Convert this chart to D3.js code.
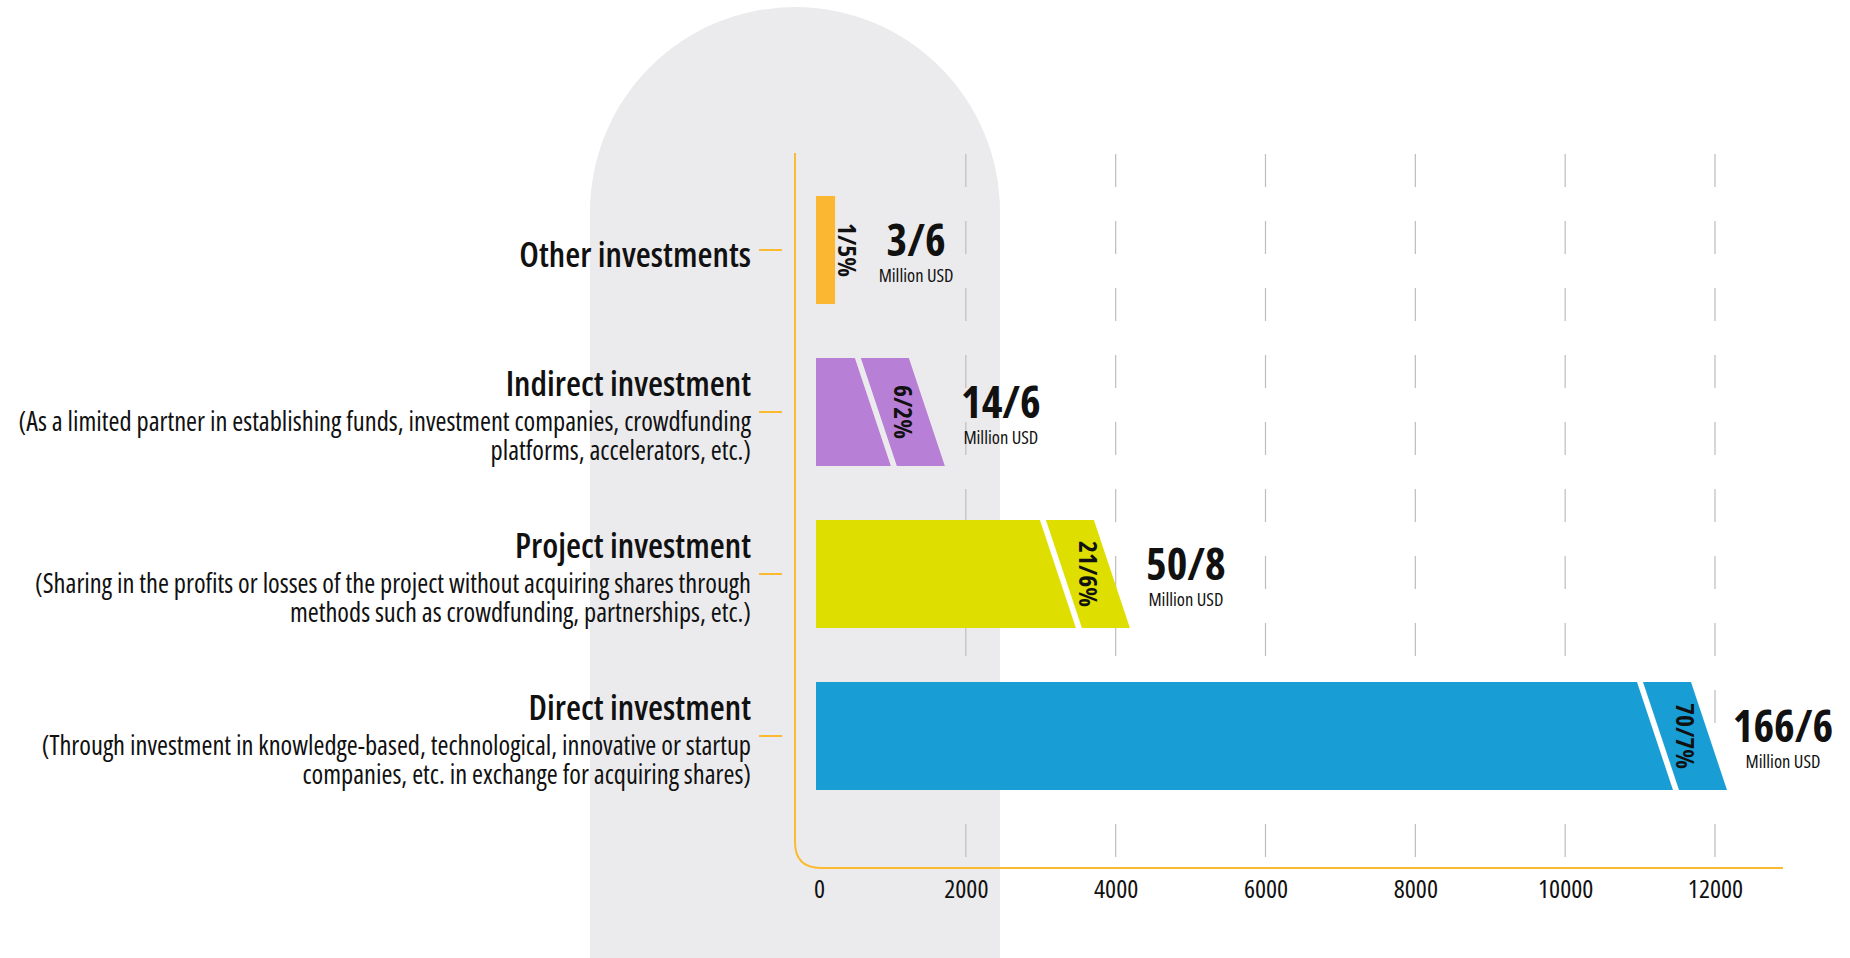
<!DOCTYPE html>
<html>
<head>
<meta charset="utf-8">
<script src="https://cdn.jsdelivr.net/npm/d3@7"></script>
<style>
  html, body { margin: 0; padding: 0; background: #fff; }
  svg text { font-family: "Open Sans", "Liberation Sans Narrow", sans-serif; font-stretch: 75%; fill: #111; }
</style>
</head>
<body>
<svg id="chart"></svg>
<script>
const w = 1850;
const h = 958;

// data
const categories = ["Other investments", "Indirect investment", "Project investment", "Direct investment"];
const notes = [
  [],
  ["(As a limited partner in establishing funds, investment companies, crowdfunding", "platforms, accelerators, etc.)"],
  ["(Sharing in the profits or losses of the project without acquiring shares through", "methods such as crowdfunding, partnerships, etc.)"],
  ["(Through investment in knowledge-based, technological, innovative or startup", "companies, etc. in exchange for acquiring shares)"]
];
const barEnds = [255, 1720, 4190, 12160];
const amounts = ["3/6", "14/6", "50/8", "166/6"];
const shares = ["1/5%", "6/2%", "21/6%", "70/7%"];
const xTicks = [0, 2000, 4000, 6000, 8000, 10000, 12000];
const barColors = ["#FBB731", "#B77FD6", "#DEDF00", "#189ED5"];

const axisColor = "#FBBA2F";
const slant = 36;   // horizontal shift of the cut over the bar height
const segW = 48;    // width of the share segment
const gap = 6;

const svg = d3.select("#chart")
    .attr("width", w)
    .attr("height", h);

const xScale = d3.scaleLinear()
    .domain([0, 12000])
    .range([816, 1715]);

const yScale = d3.scaleBand()
    .domain(categories)
    .range([196, 790])
    .paddingInner(1 / 3)
    .paddingOuter(0);

const color = d3.scaleOrdinal().domain(categories).range(barColors);

// grey rounded panel behind the first ticks
const px0 = 590, px1 = 1000, r = (px1 - px0) / 2, ptop = 7;
svg.append("path")
    .attr("d", `M${px0},${h} L${px0},${ptop + r} A${r},${r} 0 0 1 ${px1},${ptop + r} L${px1},${h} Z`)
    .attr("fill", "#EBEBED");

// dashed grid lines
svg.append("g")
    .selectAll("line")
    .data(xTicks.filter(d => d > 0))
    .enter()
    .append("line")
    .attr("x1", d => xScale(d))
    .attr("x2", d => xScale(d))
    .attr("y1", 154)
    .attr("y2", 857)
    .attr("stroke", "#BDBDBD")
    .attr("stroke-width", 1.2)
    .attr("stroke-dasharray", "33,34");

// axis with rounded corner
const ax = 795, ay = 868, rc = 26;
svg.append("path")
    .attr("d", `M${ax},153 L${ax},${ay - rc} Q${ax},${ay} ${ax + rc},${ay} L1783,${ay}`)
    .attr("fill", "none")
    .attr("stroke", axisColor)
    .attr("stroke-width", 2);

const xAxis = d3.axisBottom(xScale)
    .tickValues(xTicks)
    .tickFormat(d3.format("d"))
    .tickSize(0)
    .tickPadding(0);
const gx = svg.append("g")
    .attr("transform", "translate(0," + 898 + ")")
    .call(xAxis);
gx.select(".domain").remove();
gx.selectAll("text")
    .attr("dy", 0)
    .attr("x", d => d === 0 ? 3 : 0)
    .attr("font-size", 26)
    .attr("font-weight", 500)
    .style("font-family", "'Open Sans', 'Liberation Sans Narrow', sans-serif")
    .style("font-stretch", "75%")
    .attr("fill", "#111");

// category ticks on the vertical axis
svg.append("g")
    .selectAll("line")
    .data(categories)
    .enter()
    .append("line")
    .attr("x1", 759)
    .attr("x2", 782)
    .attr("y1", d => yScale(d) + yScale.bandwidth() / 2)
    .attr("y2", d => yScale(d) + yScale.bandwidth() / 2)
    .attr("stroke", axisColor)
    .attr("stroke-width", 2);

// category labels
const labels = svg.append("g")
    .selectAll("g")
    .data(categories)
    .enter()
    .append("g")
    .attr("transform", d => "translate(751," + (yScale(d) + yScale.bandwidth() / 2) + ")");

labels.append("text")
    .attr("text-anchor", "end")
    .attr("y", (d, i) => notes[i].length ? -16 : 17)
    .attr("font-size", 34.5)
    .attr("font-weight", 600)
    .text(d => d);

labels.each(function(d, i) {
    d3.select(this).selectAll("text.note")
        .data(notes[i])
        .enter()
        .append("text")
        .attr("class", "note")
        .attr("text-anchor", "end")
        .attr("y", (t, j) => 19 + j * 29)
        .attr("font-size", 26.5)
        .text(t => t);
});

// bars
const bars = svg.append("g")
    .selectAll("g")
    .data(categories)
    .enter()
    .append("g");

bars.each(function(d, i) {
    const g = d3.select(this);
    const top = yScale(d);
    const bot = top + yScale.bandwidth();
    const mid = (top + bot) / 2;
    const x0 = xScale(0);
    const end = xScale(barEnds[i]);

    if (i === 0) {
        g.append("rect")
            .attr("x", x0)
            .attr("y", top)
            .attr("width", end - x0)
            .attr("height", bot - top)
            .attr("fill", color(d));
        g.append("text")
            .attr("transform", "translate(" + (end + 12) + "," + mid + ") rotate(90)")
            .attr("text-anchor", "middle")
            .attr("dy", "0.36em")
            .attr("font-size", 25.5)
            .attr("font-weight", 700)
            .text(shares[i]);
    } else {
        const segTop = end - slant - segW;
        const segBot = end - segW;
        g.append("path")
            .attr("d", `M${x0},${top} L${segTop - gap},${top} L${segBot - gap},${bot} L${x0},${bot} Z`)
            .attr("fill", color(d));
        g.append("path")
            .attr("d", `M${segTop},${top} L${end - slant},${top} L${end},${bot} L${segBot},${bot} Z`)
            .attr("fill", color(d));
        g.append("text")
            .attr("transform", "translate(" + (end - slant / 2 - segW / 2) + "," + mid + ") rotate(90)")
            .attr("text-anchor", "middle")
            .attr("dy", "0.36em")
            .attr("font-size", 25.5)
            .attr("font-weight", 700)
            .text(shares[i]);
    }

    const cx = end + (i === 0 ? 81 : 56);
    g.append("text")
        .attr("x", cx)
        .attr("y", mid + 6)
        .attr("text-anchor", "middle")
        .attr("font-size", 44)
        .attr("font-weight", 700)
        .text(amounts[i]);
    g.append("text")
        .attr("x", cx)
        .attr("y", mid + 32)
        .attr("text-anchor", "middle")
        .attr("font-size", 18.5)
        .text("Million USD");
});
</script>
</body>
</html>
